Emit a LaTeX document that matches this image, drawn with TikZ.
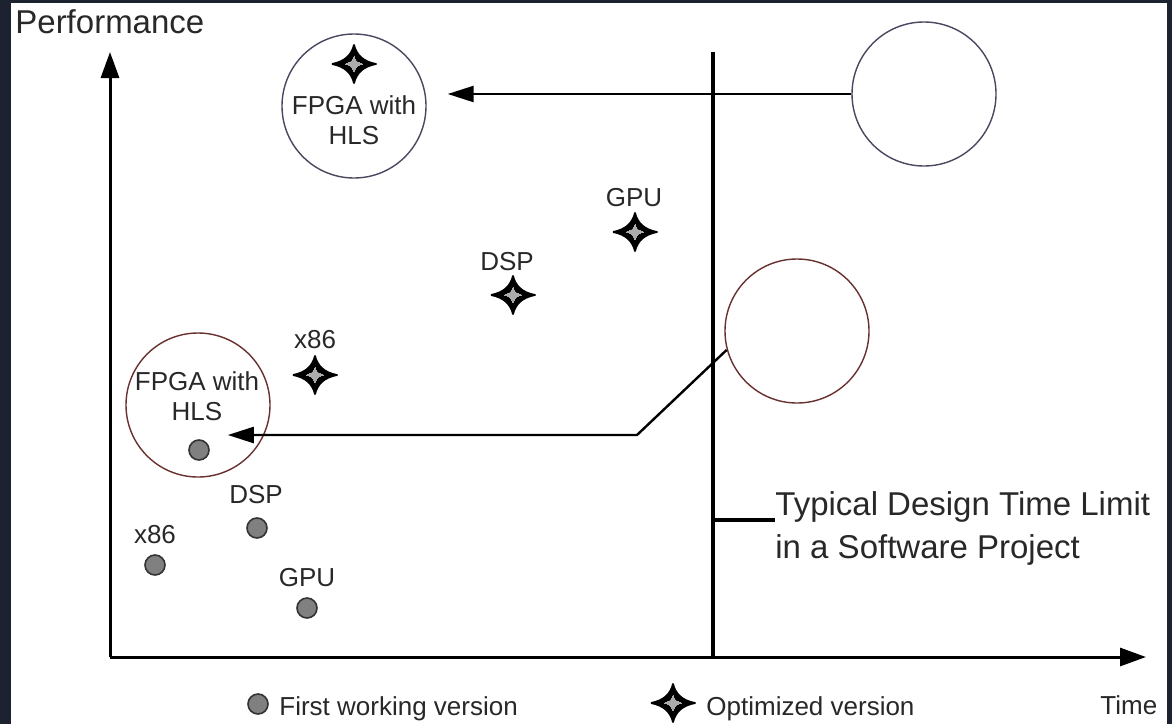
\documentclass[tikz,border=0pt]{standalone}
\usepackage{fontspec}
\setmainfont{Liberation Sans}
\usetikzlibrary{positioning}
\usetikzlibrary{arrows.meta}
\usetikzlibrary{calc}

\definecolor{framedark}{RGB}{28,34,48}
\definecolor{ringblue}{RGB}{72,72,96}
\definecolor{ringred}{RGB}{105,48,48}
\definecolor{txtgray}{RGB}{40,40,40}

\tikzset{
  axisline/.style={line width=1.5pt, -{Triangle[length=13pt,width=9pt]}},
  moveline/.style={line width=1.2pt, -{Triangle[length=13pt,width=8pt]}},
  ring/.style={circle, draw=#1, line width=0.7pt, minimum size=72pt, inner sep=0pt},
  firstdot/.style={circle, draw=black!80, fill=gray, line width=0.8pt, minimum size=10pt, inner sep=0pt},
  smalltxt/.style={font=\fontsize{13}{15}\selectfont, text=txtgray, inner sep=0pt, align=center},
  bigtxt/.style={font=\fontsize{16.5}{21.5}\selectfont, text=txtgray, inner sep=0pt, align=left},
  optstar/.pic={
    \foreach \c/\s/\w in {black/1/0.9pt, gray!65/0.4/0pt}
      \filldraw[fill=\c, draw=\c, line width=\w, line join=round, scale=\s]
        (-22,0) .. controls (-9,-2.5) and (-2.5,-9) .. (0,-19)
        .. controls (2.5,-9) and (9,-2.5) .. (22,0)
        .. controls (9,2.5) and (2.5,9) .. (0,19)
        .. controls (-2.5,9) and (-9,2.5) .. (-22,0);
  }
}

\begin{document}
\begin{tikzpicture}[x=0.5pt, y=-0.5pt]
\useasboundingbox (0,0) rectangle (1172,724);
\fill[framedark] (0,0) rectangle (1172,724);
\fill[white] (11,3) rectangle (1167,724);

% axes
\coordinate (origin) at (110,657);
\coordinate (yTop) at (110,52);
\coordinate (xEnd) at (1146,657);
\draw[axisline] (origin) -- (yTop);
\draw[axisline] (origin) -- (xEnd);
\node[bigtxt, anchor=base west] (perf) at (15,33) {Performance};
\node[smalltxt, anchor=base west] (time) at (1100,714) {Time};

% design time limit
\coordinate (limTop) at (713,52);
\coordinate (limBot) at (713,657);
\draw[line width=2pt] (limTop) -- (limBot);
\node[bigtxt, anchor=north west] (limtxt) at (775,491) {Typical Design Time Limit\\in a Software Project};
\coordinate (tickA) at (713,520);
\draw[line width=1.6pt] (tickA) -- (tickA -| limtxt.west);

% rings
\node[ring=ringblue] (hlsTop) at (354,106) {};
\node[ring=ringblue] (swTop) at (924,94) {};
\node[ring=ringred] (hlsLow) at (198,405) {};
\node[ring=ringred] (swLow) at (797,331) {};

% first working versions
\node[firstdot] (fpgaA) at (199,450) {};
\node[firstdot] (dspA) at (257,528) {};
\node[firstdot] (x86A) at (155,565) {};
\node[firstdot] (gpuA) at (307,608) {};
\node[smalltxt] (fpgaAlbl) at (197,396) {FPGA with\\HLS};
\node[smalltxt] (dspAlbl) at (256,495) {DSP};
\node[smalltxt] (x86Albl) at (155,535) {x86};
\node[smalltxt] (gpuAlbl) at (307,578) {GPU};

% optimized versions
\coordinate (fpgaB) at (354,64);
\coordinate (gpuB) at (635,232);
\coordinate (dspB) at (513,295);
\coordinate (x86B) at (315,375);
\foreach \p in {fpgaB, gpuB, dspB, x86B}
  \pic at (\p) {optstar};
\node[smalltxt] (fpgaBlbl) at (354,120) {FPGA with\\HLS};
\node[smalltxt] (gpuBlbl) at (634,198) {GPU};
\node[smalltxt] (dspBlbl) at (507,262) {DSP};
\node[smalltxt] (x86Blbl) at (315,340) {x86};

% moves
\draw[moveline, shorten >=10.5pt] (swTop.west) -- (swTop.west -| hlsTop.east);
\coordinate (kink) at (637,435);
\draw[moveline, shorten >=9pt] (swLow.195) -- (kink) -- (kink -| fpgaA.east);

% legend
\node[firstdot] (legDot) at (258,704) {};
\node[smalltxt, anchor=base west] (legDotTxt) at (279,715) {First working version};
\coordinate (legStar) at (673,703);
\pic at (legStar) {optstar};
\node[smalltxt, anchor=base west] (legStarTxt) at (706,715) {Optimized version};
\end{tikzpicture}
\end{document}
